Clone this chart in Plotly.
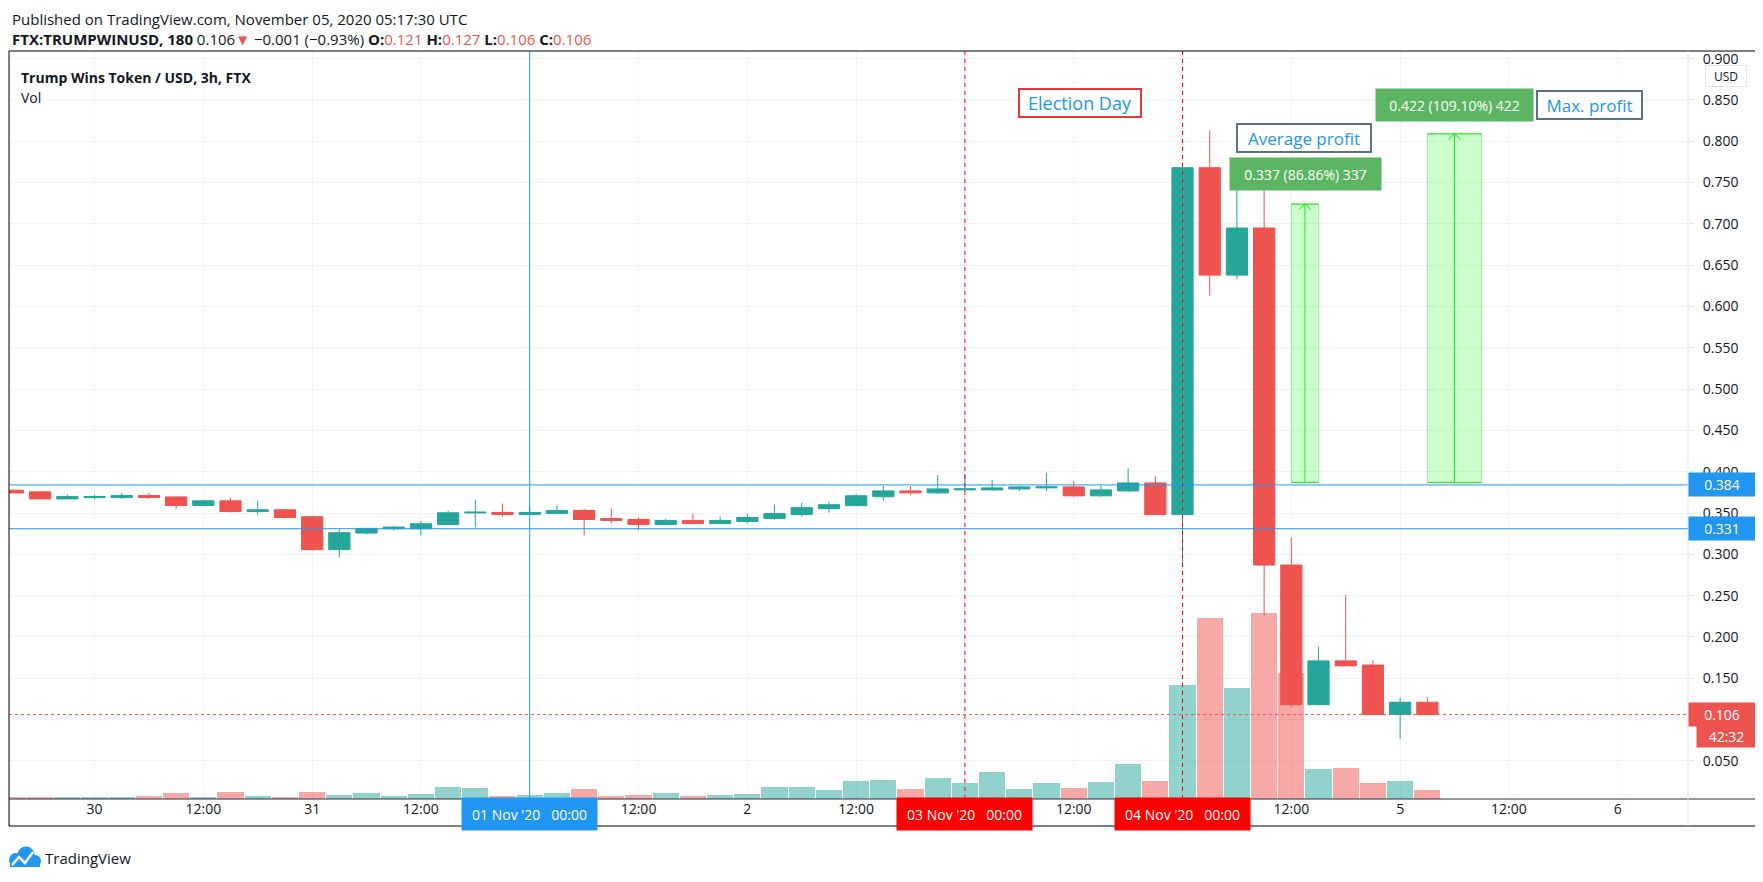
import pandas as pd
import plotly.graph_objects as go

# FTX:TRUMPWINUSD, 3h bars, first bar 29 Oct 2020 15:00 UTC
first_bar = "2020-10-29 15:00"

opens = [0.3776, 0.3756, 0.3671, 0.3687, 0.3687, 0.3711, 0.3695, 0.3591, 0.3647, 0.3519,
         0.3539, 0.3455, 0.3057, 0.3257, 0.3310, 0.3310, 0.3362, 0.3501, 0.3507, 0.3483,
         0.3495, 0.3531, 0.3433, 0.3422, 0.3362, 0.3410, 0.3374, 0.3398, 0.3433, 0.3481,
         0.3553, 0.3589, 0.3697, 0.3768, 0.3744, 0.3780, 0.3780, 0.3792, 0.3804, 0.3816,
         0.3708, 0.3768, 0.3864, 0.3481, 0.768, 0.638, 0.695, 0.287, 0.118, 0.171,
         0.166, 0.106, 0.121]
highs = [0.3792, 0.3756, 0.3724, 0.3720, 0.3744, 0.3744, 0.3695, 0.3647, 0.3683, 0.3647,
         0.3551, 0.3455, 0.3302, 0.3314, 0.3346, 0.3406, 0.3527, 0.3659, 0.3615, 0.3580,
         0.3599, 0.3551, 0.3553, 0.3445, 0.3430, 0.3493, 0.3457, 0.3493, 0.3601, 0.3625,
         0.3637, 0.3732, 0.3828, 0.3828, 0.3960, 0.3972, 0.3900, 0.3828, 0.3983, 0.3888,
         0.3828, 0.4043, 0.3948, 0.768, 0.813, 0.745, 0.747, 0.320, 0.188, 0.251,
         0.172, 0.127, 0.127]
lows = [0.3743, 0.3671, 0.3671, 0.3663, 0.3671, 0.3671, 0.3551, 0.3591, 0.3507, 0.3478,
        0.3446, 0.3045, 0.2965, 0.3242, 0.3290, 0.3230, 0.3362, 0.3326, 0.3458, 0.3480,
        0.3495, 0.3225, 0.3374, 0.3294, 0.3350, 0.3362, 0.3374, 0.3374, 0.3421, 0.3457,
        0.3505, 0.3589, 0.3649, 0.3720, 0.3732, 0.3756, 0.3768, 0.3768, 0.3768, 0.3697,
        0.3697, 0.3756, 0.3481, 0.286, 0.613, 0.633, 0.226, 0.115, 0.117, 0.165,
        0.106, 0.077, 0.106]
closes = [0.3743, 0.3671, 0.3699, 0.3699, 0.3711, 0.3687, 0.3591, 0.3647, 0.3519, 0.3539,
          0.3446, 0.3057, 0.3262, 0.3314, 0.3330, 0.3370, 0.3503, 0.3510, 0.3483, 0.3507,
          0.3531, 0.3422, 0.3410, 0.3362, 0.3410, 0.3374, 0.3410, 0.3446, 0.3493, 0.3565,
          0.3601, 0.3709, 0.3768, 0.3744, 0.3792, 0.3792, 0.3804, 0.3816, 0.3816, 0.3708,
          0.3780, 0.3864, 0.3481, 0.768, 0.638, 0.695, 0.287, 0.118, 0.171, 0.165,
          0.106, 0.121, 0.106]
volumes = [7, 7, 7, 7, 7, 10, 19, 7, 22, 10,
           7, 22, 13, 19, 10, 16, 37, 34, 10, 13,
           19, 31, 10, 13, 19, 10, 13, 16, 37, 37,
           28, 55, 58, 31, 64, 49, 82, 31, 49, 34,
           52, 106, 55, 343, 544, 334, 559, 380, 91, 94,
           49, 55, 28]

tick_times = ["2020-10-30 00:00", "2020-10-30 12:00", "2020-10-31 00:00", "2020-10-31 12:00",
              "2020-11-01 00:00", "2020-11-01 12:00", "2020-11-02 00:00", "2020-11-02 12:00",
              "2020-11-03 00:00", "2020-11-03 12:00", "2020-11-04 00:00", "2020-11-04 12:00",
              "2020-11-05 00:00", "2020-11-05 12:00", "2020-11-06 00:00"]
tick_text = ["30", "12:00", "31", "12:00", "", "12:00", "2", "12:00",
             "", "12:00", "", "12:00", "5", "12:00", "6"]
price_ticks = [0.05, 0.10, 0.15, 0.20, 0.25, 0.30, 0.35, 0.40, 0.45,
               0.50, 0.55, 0.60, 0.65, 0.70, 0.75, 0.80, 0.85, 0.90]
# 0.100 sits under the last-price badge
price_text = ["" if abs(p - 0.10) < 1e-9 else f"{p:.3f}" for p in price_ticks]

# drawings on the chart
level_lines = [0.384, 0.331]
last_price = 0.106
crosshair_time = "2020-11-01 00:00"
election_times = ["2020-11-03 00:00", "2020-11-04 00:00"]
measure_base = 0.387
avg_profit = 0.337
max_profit = 0.422
avg_window = ("2020-11-04 12:00", "2020-11-04 15:00")
max_window = ("2020-11-05 03:00", "2020-11-05 09:00")

UP = "#26a69a"
DOWN = "#ef5350"
BLUE = "#2196f3"
TEXT = "#131722"
GRID = "#f0f3fa"
FONT = "Open Sans"

times = pd.date_range(first_bar, periods=len(opens), freq="3h")
vol_colors = ["rgba(38,166,154,0.5)" if c >= o else "rgba(239,83,80,0.5)"
              for o, c in zip(opens, closes)]

# plot area in screen pixels; the page body adds an 8px offset
L, R, T, B = 9, 1688, 51, 799
OFF = 8


def px(x):
    return (x - L) / (R - L)


def py(y):
    return (B - y) / (B - T)


fig = go.Figure()

fig.add_trace(go.Bar(
    x=times, y=volumes, marker_color=vol_colors, marker_line_width=0,
    width=3 * 3600 * 1000 * 0.96, yaxis="y", hoverinfo="skip",
))
fig.add_trace(go.Candlestick(
    x=times, open=opens, high=highs, low=lows, close=closes, yaxis="y2",
    increasing=dict(line=dict(color=UP, width=1), fillcolor=UP),
    decreasing=dict(line=dict(color=DOWN, width=1), fillcolor=DOWN),
    whiskerwidth=0,
))

shapes = []
# horizontal price levels
for lvl in level_lines:
    shapes.append(dict(type="line", xref="paper", x0=0, x1=1, yref="y2", y0=lvl, y1=lvl,
                       line=dict(color=BLUE, width=1)))
shapes.append(dict(type="line", xref="paper", x0=0, x1=1, yref="y2", y0=last_price, y1=last_price,
                   line=dict(color=DOWN, width=1, dash="dot")))
# vertical lines
shapes.append(dict(type="line", xref="x", x0=crosshair_time, x1=crosshair_time,
                   yref="paper", y0=0, y1=1, line=dict(color=BLUE, width=1)))
for t in election_times:
    shapes.append(dict(type="line", xref="x", x0=t, x1=t, yref="paper", y0=0, y1=1,
                       line=dict(color="#ff0000", width=1, dash="4px,4px")))

# price range measurements
for (t0, t1), profit in [(avg_window, avg_profit), (max_window, max_profit)]:
    top = measure_base + profit
    a, b = pd.Timestamp(t0), pd.Timestamp(t1)
    mid = a + (b - a) / 2
    half = pd.Timedelta(minutes=42)
    shapes.append(dict(type="rect", xref="x", x0=a, x1=b, yref="y2", y0=measure_base, y1=top,
                       fillcolor="rgba(0,255,0,0.2)", line=dict(color="rgba(0,220,0,0.35)", width=1)))
    for lvl in (measure_base, top):
        shapes.append(dict(type="line", xref="x", x0=a, x1=b, yref="y2", y0=lvl, y1=lvl,
                           line=dict(color="#1ee81e", width=1)))
    shapes.append(dict(type="line", xref="x", x0=mid, x1=mid, yref="y2", y0=measure_base, y1=top,
                       line=dict(color="#1ee81e", width=1)))
    for side in (-1, 1):
        shapes.append(dict(type="line", xref="x", x0=mid + side * half, x1=mid, yref="y2",
                           y0=top - 0.007, y1=top, line=dict(color="#1ee81e", width=1)))

# chart frame, separators
shapes.append(dict(type="rect", xref="paper", yref="paper", x0=px(9), x1=px(1759), y0=py(826), y1=py(51),
                   line=dict(color="#000000", width=1)))
shapes.append(dict(type="line", xref="paper", yref="paper", x0=px(9), x1=px(1759), y0=0, y1=0,
                   line=dict(color="#2a2e39", width=1)))
shapes.append(dict(type="line", xref="paper", yref="paper", x0=1, x1=1, y0=py(826), y1=1,
                   line=dict(color="#e0e3eb", width=1)))

# TradingView logo
for cx, cy, r in [(16, 860, 7), (26, 855, 8.5), (35, 861, 6)]:
    shapes.append(dict(type="circle", xref="paper", yref="paper", x0=px(cx - r), x1=px(cx + r),
                       y0=py(cy + r), y1=py(cy - r), fillcolor=BLUE, line=dict(width=0)))
shapes.append(dict(type="rect", xref="paper", yref="paper", x0=px(10), x1=px(40), y0=py(867), y1=py(859),
                   fillcolor=BLUE, line=dict(width=0)))
zig = [(12, 865), (19, 857), (25, 863), (33, 852)]
path = "M " + " L ".join(f"{px(x)},{py(y)}" for x, y in zig)
shapes.append(dict(type="path", xref="paper", yref="paper", path=path,
                   line=dict(color="white", width=2.5)))

ann = []


def label(x, y, text, size=14, color=TEXT, xanchor="left", **kw):
    ann.append(dict(x=x, y=y, text=text, showarrow=False, xanchor=xanchor, yanchor="middle",
                    font=dict(family=FONT, size=size, color=color), **kw))


red = "<span style='color:#ef5350'>{}</span>"
label(px(10), py(19), "Published on TradingView.com, November 05, 2020 05:17:30 UTC", size=15, xref="paper", yref="paper")
label(px(10), py(39),
      "<b>FTX:TRUMPWINUSD, 180</b> 0.106" + red.format("▼") + " −0.001 (−0.93%) "
      + "<b>O:</b>" + red.format("0.121") + " <b>H:</b>" + red.format("0.127")
      + " <b>L:</b>" + red.format("0.106") + " <b>C:</b>" + red.format("0.106"),
      size=15, xref="paper", yref="paper")
label(px(19), py(77), "<b>Trump Wins Token / USD, 3h, FTX</b>", size=14, xref="paper", yref="paper")
label(px(19), py(97), "Vol", size=14, xref="paper", yref="paper")
label(px(43), py(858), "TradingView", size=15, xref="paper", yref="paper")

# text notes
label(px(1080), py(103), "Election Day", size=18, color=BLUE, xanchor="center", xref="paper", yref="paper",
      bordercolor="#e53935", borderwidth=2, borderpad=1, width=118, height=24, bgcolor="white")
label(px(1304), py(138), "Average profit", size=17, color=BLUE, xanchor="center", xref="paper", yref="paper",
      bordercolor="#5d7185", borderwidth=2, borderpad=1, width=130, height=24, bgcolor="white")
label(px(1589.5), py(105), "Max. profit", size=17, color=BLUE, xanchor="center", xref="paper", yref="paper",
      bordercolor="#5d7185", borderwidth=2, borderpad=1, width=101, height=24, bgcolor="white")
label(px(1305.5), py(174), f"{avg_profit:.3f} (86.86%) 337", size=14, color="white", xanchor="center",
      xref="paper", yref="paper", bgcolor="#5cb562", width=149, height=30)
label(px(1454.5), py(105), f"{max_profit:.3f} (109.10%) 422", size=14, color="white", xanchor="center",
      xref="paper", yref="paper", bgcolor="#5cb562", width=155, height=30)

# price axis badges
for lvl in level_lines:
    label(1, lvl, f"{lvl:.3f}", color="white", xref="paper", yref="y2", bgcolor=BLUE, width=64, height=21)
label(1, last_price, f"{last_price:.3f}", color="white", xref="paper", yref="y2", bgcolor=DOWN, width=64, height=21)
label(px(1696), py(736), "42:32", color="white", xref="paper", yref="paper", bgcolor=DOWN, width=57, height=20)
label(px(1726), py(76), "USD", size=12, xanchor="center", xref="paper", yref="paper",
      bordercolor="#e0e3eb", borderwidth=1, borderpad=2, width=36, height=16, bgcolor="white")

# time axis badges
for t, color in [(crosshair_time, BLUE), (election_times[0], "#ff0000"), (election_times[1], "#ff0000")]:
    day = pd.Timestamp(t)
    label(day, py(814), day.strftime("%d %b '%y") + "\u00a0\u00a0\u00a0" + day.strftime("%H:%M"),
          color="white", xanchor="center", xref="x", yref="paper", bgcolor=color, width=133, height=30)

fig.update_layout(
    width=1763, height=882,
    margin=dict(l=L - OFF, r=1763 - (R - OFF), t=T - OFF, b=882 - (B - OFF)),
    paper_bgcolor="white", plot_bgcolor="white",
    showlegend=False, boxgap=0.22, boxgroupgap=0, bargap=0,
    font=dict(family=FONT, color=TEXT, size=14),
    xaxis=dict(type="date", range=["2020-10-29 14:34", "2020-11-06 07:45"],
               tickvals=tick_times, ticktext=tick_text, showgrid=True, gridcolor=GRID,
               zeroline=False, showline=False, ticks="", rangeslider=dict(visible=False),
               tickfont=dict(size=14, color=TEXT)),
    yaxis=dict(range=[0, 2248], visible=False, showgrid=False),
    yaxis2=dict(overlaying="y", side="right", range=[0.0038, 0.9093], tickvals=price_ticks,
                ticktext=price_text, showgrid=True, gridcolor=GRID, zeroline=False,
                ticks="outside", ticklen=5, tickcolor="#e0e3eb", ticklabelstandoff=6,
                tickfont=dict(size=14, color=TEXT)),
    shapes=shapes, annotations=ann,
)

fig.write_html("out.html")
